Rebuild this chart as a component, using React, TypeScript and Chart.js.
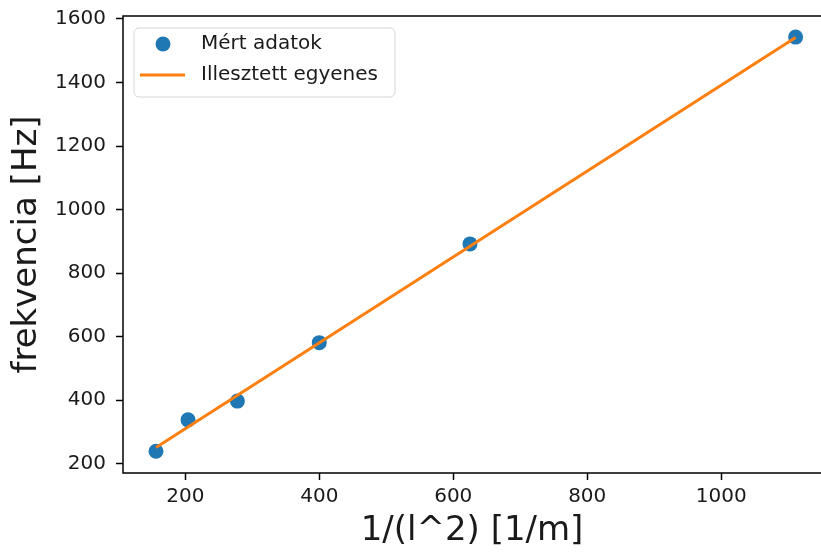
import React, { useEffect, useRef } from "react";
import { Chart, registerables } from "chart.js";

Chart.register(...registerables);

// Measured data
const invLengthSq = [156.25, 204.08, 277.78, 400, 625, 1111.11];
const frequency = [239, 338, 397, 581, 892, 1543];
// Fitted straight line (endpoints)
const fitX = [156.25, 1111.11];
const fitY = [250.8, 1541.6];

const xTickValues = [200, 400, 600, 800, 1000];
const yTickValues = [200, 400, 600, 800, 1000, 1200, 1400, 1600];
const seriesLabels = ["Mért adatok", "Illesztett egyenes"];
const xTitle = "1/(l^2) [1/m]";
const yTitle = "frekvencia [Hz]";

const FONT = "'DejaVu Sans', sans-serif";
const BLUE = "#1f77b4";
const ORANGE = "#ff7f0e";

const spinesPlugin = {
  id: "spines",
  afterDatasetsDraw(chart: any) {
    const { ctx, chartArea } = chart;
    const { left, top, bottom } = chartArea;
    ctx.save();
    ctx.strokeStyle = "#000";
    ctx.lineWidth = 1.5;
    ctx.beginPath();
    ctx.moveTo(chart.width + 10, top);
    ctx.lineTo(left, top);
    ctx.lineTo(left, bottom);
    ctx.lineTo(chart.width + 10, bottom);
    ctx.stroke();
    ctx.restore();
  },
};

const legendPlugin = {
  id: "mplLegend",
  afterDraw(chart: any) {
    const { ctx } = chart;
    const ds = chart.data.datasets;
    const x0 = 134, y0 = 28, w = 261, h = 69, r = 5;
    ctx.save();
    ctx.beginPath();
    ctx.moveTo(x0 + r, y0);
    ctx.lineTo(x0 + w - r, y0);
    ctx.arcTo(x0 + w, y0, x0 + w, y0 + r, r);
    ctx.lineTo(x0 + w, y0 + h - r);
    ctx.arcTo(x0 + w, y0 + h, x0 + w - r, y0 + h, r);
    ctx.lineTo(x0 + r, y0 + h);
    ctx.arcTo(x0, y0 + h, x0, y0 + h - r, r);
    ctx.lineTo(x0, y0 + r);
    ctx.arcTo(x0, y0, x0 + r, y0, r);
    ctx.closePath();
    ctx.fillStyle = "rgba(255,255,255,0.8)";
    ctx.fill();
    ctx.strokeStyle = "#d6d6d6";
    ctx.lineWidth = 1;
    ctx.stroke();

    const scatter = ds.find((d: any) => d.type === "scatter");
    const line = ds.find((d: any) => d.type === "line");
    ctx.fillStyle = scatter.backgroundColor;
    ctx.beginPath();
    ctx.arc(163, 44, 7.5, 0, Math.PI * 2);
    ctx.fill();
    ctx.strokeStyle = line.borderColor;
    ctx.lineWidth = 3;
    ctx.beginPath();
    ctx.moveTo(140, 75);
    ctx.lineTo(185, 75);
    ctx.stroke();

    ctx.fillStyle = "#1a1a1a";
    ctx.font = `20px ${FONT}`;
    ctx.textBaseline = "middle";
    ctx.textAlign = "left";
    ctx.fillText(scatter.label, 201, 44);
    ctx.fillText(line.label, 201, 75);
    ctx.restore();
  },
};

export default function App() {
  const ref = useRef<HTMLCanvasElement>(null);

  useEffect(() => {
    if (!ref.current) return;
    const chart = new Chart(ref.current, {
      type: "scatter",
      data: {
        datasets: [
          {
            type: "line",
            label: seriesLabels[1],
            data: fitX.map((x, i) => ({ x, y: fitY[i] })),
            borderColor: ORANGE,
            backgroundColor: ORANGE,
            borderWidth: 3,
            pointRadius: 0,
            fill: false,
            order: 1,
          } as any,
          {
            type: "scatter",
            label: seriesLabels[0],
            data: invLengthSq.map((x, i) => ({ x, y: frequency[i] })),
            backgroundColor: BLUE,
            borderColor: BLUE,
            pointRadius: 7.5,
            pointBorderWidth: 0,
            order: 2,
          },
        ],
      },
      options: {
        animation: false,
        responsive: false,
        layout: {
          autoPadding: false,
          padding: { top: 16, right: 0, left: 0, bottom: 0 },
        },
        plugins: {
          legend: { display: false },
          tooltip: { enabled: false },
        },
        scales: {
          x: {
            type: "linear",
            min: 107,
            max: 1149,
            border: { display: false },
            grid: {
              drawOnChartArea: false,
              drawTicks: true,
              tickLength: 7,
              tickColor: "#000",
              tickWidth: 1.5,
            },
            afterBuildTicks: (scale: any) => {
              scale.ticks = xTickValues.map((v) => ({ value: v }));
            },
            afterFit: (scale: any) => {
              scale.height = 79;
              scale.paddingLeft = 0;
              scale.paddingRight = 0;
              scale.paddingTop = 0;
              scale.paddingBottom = 0;
            },
            ticks: {
              color: "#1a1a1a",
              font: { family: FONT, size: 20 },
              padding: 5,
              maxRotation: 0,
              autoSkip: false,
              callback: (v: any) => String(v),
            },
            title: {
              display: true,
              text: xTitle,
              color: "#1a1a1a",
              font: { family: FONT, size: 34, lineHeight: 1.2 },
              padding: { top: 0, bottom: 0 },
            },
          },
          y: {
            type: "linear",
            min: 170.7,
            max: 1609.4,
            border: { display: false },
            grid: {
              drawOnChartArea: false,
              drawTicks: true,
              tickLength: 7,
              tickColor: "#000",
              tickWidth: 1.5,
            },
            afterBuildTicks: (scale: any) => {
              scale.ticks = yTickValues.map((v) => ({ value: v }));
            },
            afterFit: (scale: any) => {
              scale.width = 123;
              scale.paddingLeft = 0;
              scale.paddingRight = 0;
              scale.paddingTop = 0;
              scale.paddingBottom = 0;
            },
            ticks: {
              color: "#1a1a1a",
              font: { family: FONT, size: 20 },
              padding: 10,
              autoSkip: false,
              callback: (v: any) => String(v),
            },
            title: {
              display: true,
              text: yTitle,
              color: "#1a1a1a",
              font: { family: FONT, size: 34, lineHeight: 1.2 },
              padding: { top: 7, bottom: 0 },
            },
          },
        },
      },
      plugins: [spinesPlugin, legendPlugin],
    });
    return () => chart.destroy();
  }, []);

  return (
    <div
      style={{
        position: "fixed",
        left: 0,
        top: 0,
        width: 821,
        height: 552,
        background: "#fff",
      }}
    >
      <canvas ref={ref} width={821} height={552} />
    </div>
  );
}
